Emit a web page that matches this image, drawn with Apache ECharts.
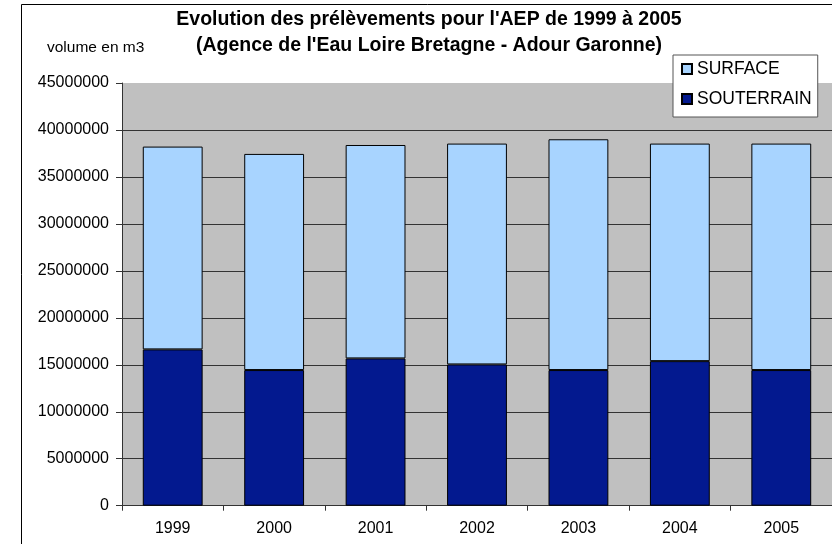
<!DOCTYPE html>
<html>
<head>
<meta charset="utf-8">
<script src="https://cdn.jsdelivr.net/npm/echarts@6/dist/echarts.min.js"></script>
<style>
html,body{margin:0;padding:0;background:#fff;}
#chart{width:832px;height:544px;}
</style>
</head>
<body>
<div id="chart"></div>
<script>
const years = ['1999', '2000', '2001', '2002', '2003', '2004', '2005'];
const souterrain = [16640000, 14440000, 15680000, 15040000, 14440000, 15390000, 14440000];
const surface = [21590000, 23010000, 22720000, 23510000, 24570000, 23160000, 24110000];
const yMin = 0, yMax = 45000000, yStep = 5000000;
const titleText = "Evolution des prélèvements pour l'AEP de 1999 à 2005\n(Agence de l'Eau Loire Bretagne - Adour Garonne)";
const yAxisTitle = 'volume en m3';
const seriesNames = ['SURFACE', 'SOUTERRAIN'];

const FONT = "'Liberation Sans', Arial, sans-serif";
const chart = echarts.init(document.getElementById('chart'), null, {renderer: 'canvas'});
chart.setOption({
  animation: false,
  backgroundColor: '#ffffff',
  textStyle: {fontFamily: FONT},
  graphic: [{
    type: 'rect', silent: true, z: -10,
    shape: {x: 21.5, y: 4.5, width: 900, height: 700},
    style: {fill: 'none', stroke: '#000', lineWidth: 1}
  }],
  title: [{
    text: titleText,
    left: 429, top: 6, textAlign: 'center', padding: 0,
    textStyle: {fontFamily: FONT, fontSize: 19.5, fontWeight: 'bold', color: '#000', lineHeight: 26.5}
  }, {
    text: yAxisTitle,
    left: 47, top: 40, padding: 0,
    textStyle: {fontFamily: FONT, fontSize: 15.5, fontWeight: 'normal', color: '#000'}
  }],
  legend: {
    data: seriesNames,
    orient: 'vertical',
    left: 673, top: 55,
    padding: [5, 6, 9, 8],
    itemGap: 12,
    itemWidth: 10, itemHeight: 10,
    icon: 'rect',
    backgroundColor: '#fff',
    borderColor: '#555', borderWidth: 1,
    textStyle: {fontFamily: FONT, fontSize: 17.5, color: '#000', lineHeight: 17, padding: [0,0,0,0]}
  },
  grid: {
    left: 122, top: 83, width: 716.5, height: 422.7,
    show: true, backgroundColor: '#C0C0C0', borderWidth: 0,
    containLabel: false
  },
  xAxis: {
    type: 'category', data: years,
    axisLine: {lineStyle: {color: '#333', width: 1}},
    axisTick: {show: true, length: 5, lineStyle: {color: '#333'}},
    axisLabel: {color: '#000', fontSize: 16, fontFamily: FONT, margin: 15},
    splitLine: {show: false}
  },
  yAxis: {
    type: 'value', min: yMin, max: yMax, interval: yStep,
    axisLine: {show: true, lineStyle: {color: '#333', width: 1}},
    axisTick: {show: true, length: 6, lineStyle: {color: '#333'}},
    axisLabel: {color: '#000', fontSize: 16, fontFamily: FONT, margin: 13, formatter: v => String(v)},
    splitLine: {show: true, showMaxLine: false, lineStyle: {color: '#333', width: 1}}
  },
  series: [{
    name: 'SOUTERRAIN', type: 'bar', stack: 'total', data: souterrain,
    barWidth: '59%',
    itemStyle: {color: '#03198F', borderColor: '#000', borderWidth: 1}
  }, {
    name: 'SURFACE', type: 'bar', stack: 'total', data: surface,
    barWidth: '59%',
    itemStyle: {color: '#A8D4FF', borderColor: '#000', borderWidth: 1}
  }]
});
</script>
</body>
</html>
